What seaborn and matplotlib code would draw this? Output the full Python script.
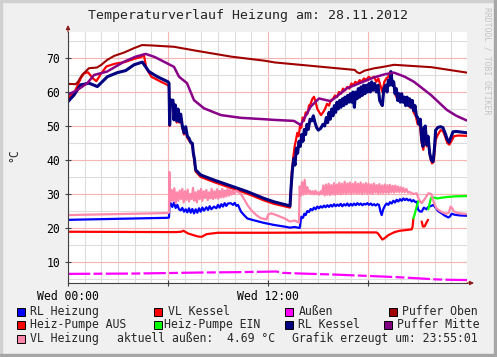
import numpy as np
import seaborn as sns
import matplotlib.pyplot as plt
from matplotlib.patches import Rectangle

# ---- data (hours since Wed 00:00, temperature in °C) ----
t_puffer_oben = [0, 0.46, 0.6, 0.84, 1.26, 1.74, 2.0, 2.34, 2.76, 3.36, 3.96, 4.44, 5.0, 6.36, 7.74,
                 9.8, 11.8, 12.4, 14.8, 17.2, 17.35, 17.5, 17.8, 18.4, 18.8, 19.56, 21.8, 23.94]
v_puffer_oben = [62.4, 62.3, 63.0, 65.0, 67.0, 67.2, 68.0, 69.4, 70.6, 71.6, 72.9, 73.8, 73.7, 73.3, 72.1,
                 70.4, 69.2, 68.7, 67.6, 66.5, 65.8, 65.5, 66.3, 67.0, 67.3, 68.0, 67.3, 65.7]

t_puffer_mitte = [0, 0.56, 1.16, 1.56, 2.34, 3.36, 4.06, 4.66, 5.2, 5.76, 6.36, 6.66, 7.14, 7.56, 8.16,
                  9.18, 10.38, 11.76, 12.36, 13.56, 13.96, 14.56, 15.06, 15.76, 16.74, 18.36, 19.0, 19.56,
                  20.2, 20.76, 21.78, 22.74, 23.3, 23.94]
v_puffer_mitte = [59.2, 60.6, 62.6, 65.0, 66.0, 68.9, 70.4, 71.2, 70.3, 68.9, 67.4, 64.5, 62.6, 57.6, 55.2,
                  53.2, 52.4, 52.0, 51.8, 51.5, 50.3, 55.7, 58.1, 57.3, 61.1, 64.3, 65.2, 65.7,
                  64.5, 63.0, 59.1, 54.7, 53.0, 51.6]

t_rl_kessel = [0, 0.36, 0.76, 1.26, 1.76, 2.36, 2.96, 3.46, 3.96, 4.46, 4.86, 5.36, 6.0,
               6.06, 6.10, 6.14, 6.30, 6.36, 6.44, 6.52, 6.60, 6.68, 6.76, 6.86, 6.96, 7.06, 7.16, 7.26,
               7.36, 7.46, 7.52, 7.58, 7.66, 7.96, 8.76, 9.76, 10.76, 11.76, 12.36, 13.32,
               13.40, 13.48, 13.56, 13.62, 13.70, 13.78, 13.86, 13.94, 14.02, 14.10, 14.18, 14.26, 14.34,
               14.42, 14.52, 14.62, 14.72, 14.82, 14.92, 15.02, 15.16, 15.30, 15.40, 15.50, 15.58, 15.66,
               15.74, 15.82, 15.90, 15.98, 16.06, 16.14, 16.22, 16.30, 16.38, 16.46, 16.54, 16.62, 16.70,
               16.78, 16.86, 16.94, 17.02, 17.10, 17.18, 17.26, 17.34, 17.42, 17.50, 17.58, 17.66, 17.74,
               17.82, 17.90, 17.98, 18.06, 18.14, 18.22, 18.30, 18.40, 18.50, 18.60, 18.70, 18.80, 18.86,
               18.95, 19.06, 19.14, 19.22, 19.30, 19.38, 19.46, 19.54, 19.62, 19.70, 19.78, 19.86, 19.94,
               20.02, 20.10, 20.18, 20.26, 20.34, 20.42, 20.50, 20.58, 20.66, 20.74, 20.82, 20.90, 20.98,
               21.06, 21.14, 21.22, 21.30, 21.36, 21.44, 21.52, 21.60, 21.70, 21.80, 21.90, 21.98, 22.06,
               22.20, 22.36, 22.50, 22.62, 22.76, 22.86, 22.96, 23.10, 23.30, 23.60, 23.94]
v_rl_kessel = [57.2, 59.1, 62.1, 62.6, 61.6, 64.5, 65.7, 66.3, 68.0, 68.8, 66.0, 64.5, 63.0,
               62.6, 50.3, 57.6, 57.6, 51.8, 56.2, 51.5, 55.0, 51.3, 53.5, 50.0, 48.0, 49.8, 47.0, 46.4,
               45.2, 44.9, 42.0, 40.5, 37.1, 35.6, 34.1, 32.4, 30.7, 28.7, 27.7, 26.5,
               33.0, 38.0, 40.5, 38.5, 43.5, 42.0, 45.5, 44.0, 47.5, 45.5, 49.0, 47.5, 50.5,
               49.0, 52.0, 51.5, 53.0, 51.0, 49.5, 48.8, 49.3, 50.5, 50.0, 52.5, 51.0, 54.0,
               52.0, 55.0, 53.0, 56.0, 54.0, 57.0, 55.0, 57.5, 55.5, 58.0, 56.0, 58.5, 56.5,
               59.0, 57.0, 59.5, 57.0, 60.0, 55.5, 60.0, 58.0, 61.0, 58.5, 61.5, 59.0, 62.0,
               59.5, 62.0, 60.0, 62.5, 60.0, 63.0, 60.5, 62.5, 60.0, 62.0, 57.5, 56.5, 56.0,
               61.0, 62.0, 60.0, 63.5, 62.0, 66.0, 62.0, 63.0, 59.5, 61.0, 57.5, 59.5, 57.0,
               59.5, 57.0, 58.5, 56.0, 58.5, 56.0, 58.0, 55.5, 57.5, 54.5, 56.0, 53.0, 52.5,
               50.5, 52.0, 46.0, 44.0, 49.5, 50.0, 44.5, 47.0, 42.0, 40.0, 39.5, 43.0, 48.8,
               49.6, 49.8, 49.5, 48.0, 46.0, 45.2, 46.5, 48.3, 48.4, 48.2, 48.0]

t_vl_kessel = [0, 0.4, 0.76, 0.96, 1.2, 1.5, 1.7, 2.0, 2.3, 2.8, 3.4, 4.0, 4.4, 4.55, 4.7, 5.0, 5.5, 6.0,
               6.06, 6.10, 6.14, 6.30, 6.36, 6.44, 6.52, 6.60, 6.68, 6.76, 6.86, 6.96, 7.06, 7.16, 7.26,
               7.46, 7.56, 7.66, 7.96, 8.76, 9.76, 10.76, 11.76, 12.36, 13.32,
               13.42, 13.52, 13.60, 13.68, 13.76, 13.84, 13.92, 14.00, 14.08, 14.16, 14.26, 14.36, 14.46,
               14.56, 14.66, 14.76, 14.86, 14.96, 15.06, 15.18, 15.30, 15.42, 15.54, 15.66, 15.76, 15.90,
               16.02, 16.14, 16.26, 16.38, 16.50, 16.62, 16.76, 16.88, 17.00, 17.12, 17.24, 17.36, 17.50,
               17.62, 17.76, 17.90, 18.04, 18.18, 18.36, 18.50, 18.62, 18.74, 18.86, 18.98, 19.10, 19.22,
               19.34, 19.44, 19.56, 19.66, 19.78, 19.90, 20.02, 20.14, 20.26, 20.38, 20.50, 20.62, 20.74,
               20.86, 20.98, 21.10, 21.22, 21.32, 21.42, 21.52, 21.62, 21.72, 21.84, 21.94, 22.06, 22.20,
               22.36, 22.50, 22.62, 22.76, 22.88, 23.00, 23.16, 23.40, 23.94]
v_vl_kessel = [58.2, 60.0, 64.0, 65.5, 65.8, 64.0, 63.2, 65.5, 67.5, 68.3, 68.8, 69.8, 70.3, 71.0, 67.0,
               64.5, 63.2, 62.0,
               61.5, 50.0, 57.0, 57.0, 52.0, 55.5, 51.0, 54.5, 51.0, 53.0, 49.5, 47.5, 49.0, 46.5, 45.8,
               44.3, 40.5, 36.6, 35.0, 33.5, 31.8, 30.1, 28.1, 27.1, 26.0,
               36.0, 41.0, 44.0, 46.0, 48.0, 47.0, 50.0, 49.5, 52.5, 51.5, 54.0, 53.5, 56.0,
               56.5, 58.0, 58.6, 57.0, 55.0, 54.2, 53.2, 54.0, 55.0, 56.5, 56.0, 57.5, 58.0,
               59.0, 58.5, 60.0, 59.5, 61.0, 60.5, 61.5, 61.0, 62.5, 62.0, 63.0, 62.5, 63.5,
               63.0, 64.0, 63.5, 64.5, 64.0, 64.5, 63.0, 64.0, 62.0, 60.0, 63.0, 64.0, 64.5,
               66.0, 63.5, 62.0, 59.0, 58.0, 59.0, 57.5, 58.5, 56.5, 57.5, 55.5, 56.5, 54.0,
               53.0, 50.5, 51.0, 45.0, 43.0, 48.0, 44.0, 46.0, 41.0, 39.0, 39.5, 46.0, 47.5,
               48.8, 48.5, 47.0, 45.0, 44.5, 45.5, 47.0, 47.2, 47.1]

t_rl_heizung = [0, 3.0, 6.0, 6.06, 6.10, 6.16, 6.26, 6.36, 6.46, 6.56, 6.66, 6.76, 6.86, 6.96, 7.06, 7.16,
                7.26, 7.36, 7.46, 7.56, 7.66, 7.76, 7.86, 7.96, 8.06, 8.16, 8.30, 8.40, 8.50, 8.60, 8.76,
                8.90, 9.00, 9.10, 9.20, 9.30, 9.40, 9.50, 9.60, 9.76, 9.90, 10.00, 10.10, 10.20, 10.38,
                10.60, 10.76, 11.20, 11.76, 12.36, 13.00, 13.32, 13.60, 13.90,
                14.00, 14.10, 14.18, 14.26, 14.36, 14.46, 14.56, 14.66, 14.76, 14.86, 14.96, 15.06, 15.16,
                15.26, 15.36, 15.46, 15.56, 15.66, 15.76, 15.86, 15.96, 16.06, 16.16, 16.26, 16.36, 16.46,
                16.56, 16.66, 16.76, 16.86, 16.96, 17.06, 17.16, 17.26, 17.36, 17.46, 17.56, 17.66, 17.76,
                17.86, 17.96, 18.06, 18.16, 18.26, 18.36, 18.46, 18.56, 18.66, 18.74, 18.82, 18.92, 19.02,
                19.12, 19.22, 19.32, 19.42, 19.52, 19.62, 19.72, 19.82, 19.92, 20.02, 20.12, 20.22, 20.32,
                20.42, 20.52, 20.62, 20.72, 20.82, 20.92, 21.00, 21.10, 21.22, 21.35, 21.50, 21.62, 21.80,
                21.92, 22.05, 22.20, 22.42, 22.62, 22.82, 22.92, 23.02, 23.20, 23.50, 23.94]
v_rl_heizung = [22.4, 22.7, 23.0, 23.1, 28.0, 27.2, 26.2, 27.5, 25.9, 26.8, 25.5, 25.2, 25.9, 24.8, 25.5, 24.6,
                25.8, 24.5, 25.6, 24.3, 25.5, 24.5, 25.8, 24.8, 26.0, 25.1, 26.1, 25.3, 26.4, 25.5, 26.3,
                25.8, 26.8, 26.0, 27.0, 26.3, 27.3, 26.5, 27.2, 27.3, 26.8, 27.4, 26.5, 26.8, 24.8,
                23.6, 22.8, 22.2, 21.5, 20.9, 20.4, 20.1, 20.3, 20.0,
                23.3, 23.0, 24.2, 23.8, 25.0, 24.7, 25.6, 25.2, 26.0, 25.5, 26.3, 25.8, 26.4,
                26.0, 26.6, 26.1, 26.7, 26.2, 26.8, 26.3, 27.0, 26.4, 26.9, 26.5, 27.1, 26.4,
                27.0, 26.6, 27.2, 26.5, 27.1, 26.6, 27.2, 26.7, 27.3, 26.8, 27.2, 26.7, 27.1,
                26.9, 27.3, 26.8, 27.2, 26.7, 27.0, 26.6, 27.0, 26.8, 25.0, 23.8, 25.6, 26.6,
                27.2, 26.8, 27.6, 27.2, 28.0, 27.5, 28.3, 27.8, 28.5, 28.0, 28.7, 28.2, 28.6,
                28.1, 28.4, 27.8, 28.2, 27.7, 27.7, 25.5, 24.9, 24.8, 26.0, 25.5, 26.2, 26.5,
                26.8, 26.0, 25.0, 24.3, 23.6, 23.1, 23.4, 24.2, 23.9, 23.7, 23.6]

t_vl_heizung = [0, 3.0, 6.0, 6.06, 6.08, 6.14, 6.22, 6.30, 6.38, 6.46, 6.54, 6.62, 6.70, 6.78, 6.86, 6.94,
                7.02, 7.10, 7.18, 7.26, 7.34, 7.42, 7.50, 7.58, 7.66, 7.74, 7.82, 7.90, 7.98, 8.06, 8.14,
                8.22, 8.30, 8.38, 8.46, 8.54, 8.62, 8.70, 8.78, 8.86, 8.94, 9.02, 9.10, 9.18, 9.26, 9.34,
                9.42, 9.50, 9.58, 9.66, 9.74, 9.82, 9.90, 9.98, 10.10, 10.20, 10.38, 10.60, 10.76, 11.00,
                11.30, 11.56, 11.90, 12.02, 12.20, 12.50, 13.00, 13.32, 13.60, 13.86, 13.90, 13.96,
                14.04, 14.12, 14.20, 14.28, 14.36, 14.44, 14.52, 14.60, 14.68, 14.76, 14.84, 14.92, 15.00,
                15.08, 15.16, 15.24, 15.32, 15.40, 15.48, 15.56, 15.64, 15.72, 15.80, 15.88, 15.96, 16.04,
                16.12, 16.20, 16.28, 16.36, 16.44, 16.52, 16.60, 16.68, 16.76, 16.84, 16.92, 17.00, 17.08,
                17.16, 17.24, 17.32, 17.40, 17.48, 17.56, 17.64, 17.72, 17.80, 17.88, 17.96, 18.04, 18.12,
                18.20, 18.28, 18.36, 18.44, 18.52, 18.60, 18.68, 18.76, 18.84, 18.92, 19.00, 19.08, 19.16,
                19.24, 19.32, 19.40, 19.48, 19.56, 19.64, 19.72, 19.80, 19.88, 19.96, 20.04, 20.12, 20.20,
                20.30, 20.40, 20.50, 20.62, 20.74, 20.92, 21.04, 21.22, 21.40, 21.62, 21.80, 21.95, 22.10,
                22.32, 22.50, 22.70, 22.85, 22.96, 23.05, 23.15, 23.40, 23.70, 23.94]
v_vl_heizung = [23.8, 24.1, 24.4, 24.6, 36.5, 27.8, 31.2, 28.0, 31.7, 27.3, 30.5, 28.0, 31.0, 28.5, 31.5, 27.5,
                30.8, 28.3, 31.3, 27.8, 30.0, 28.5, 31.8, 28.0, 30.5, 27.5, 31.0, 28.5, 31.5, 28.0, 30.8,
                28.8, 31.2, 28.2, 30.5, 28.7, 31.5, 28.5, 30.8, 28.8, 31.4, 28.6, 30.9, 29.0, 31.5, 29.0,
                31.0, 29.3, 31.6, 29.5, 31.2, 29.8, 31.0, 30.0, 31.0, 30.6, 30.0, 28.2, 26.8, 25.2,
                23.8, 22.9, 22.5, 24.0, 24.3, 23.8, 22.8, 21.9, 22.2, 21.6, 32.2, 29.5,
                33.5, 29.8, 34.2, 30.0, 32.0, 30.2, 31.0, 30.0, 30.8, 29.9, 31.0, 30.0, 30.5,
                29.8, 30.8, 30.0, 32.5, 29.6, 32.8, 29.8, 33.0, 29.7, 32.6, 29.9, 33.2, 29.8,
                32.8, 30.0, 33.3, 29.9, 33.0, 30.1, 33.6, 30.0, 33.1, 30.2, 33.4, 30.0, 33.0,
                30.3, 33.5, 30.1, 33.0, 30.2, 33.4, 30.0, 32.9, 30.3, 33.2, 30.1, 33.0, 30.2,
                32.8, 30.0, 33.1, 30.4, 32.6, 30.1, 32.9, 30.3, 32.5, 30.2, 32.8, 30.4, 32.6,
                30.3, 32.7, 30.5, 32.4, 30.4, 32.5, 30.6, 32.2, 30.5, 32.0, 30.6, 31.8, 30.5,
                31.5, 30.4, 30.6, 30.2, 30.0, 30.2, 28.5, 27.3, 28.5, 30.2, 30.0, 27.5, 25.8,
                25.0, 24.5, 24.2, 24.5, 26.3, 25.8, 24.9, 24.4, 24.2, 24.1]

t_pumpe_aus = [0, 6.0, 6.5, 6.8, 6.92, 7.2, 7.52, 7.8, 8.02, 8.2, 8.32, 9.0, 12.0, 16.0, 18.5, 18.6,
               18.86, 19.0, 19.22, 19.6, 19.92, 20.3, 20.62, 20.68, 20.72]
v_pumpe_aus = [18.9, 18.8, 18.8, 18.9, 19.2, 18.4, 17.9, 17.5, 17.4, 17.9, 18.2, 18.6, 18.6, 18.7, 18.7, 18.4,
               16.6, 17.0, 17.9, 18.8, 19.2, 19.4, 19.6, 20.5, 22.8]
t_pumpe_aus2 = [21.22, 21.30, 21.40, 21.50, 21.60]
v_pumpe_aus2 = [21.9, 20.4, 20.5, 21.5, 22.4]

t_pumpe_ein = [20.72, 20.80, 20.92, 21.02, 21.12]
v_pumpe_ein = [22.8, 24.0, 26.3, 28.0, 27.8]
t_pumpe_ein2 = [21.62, 21.68, 21.76, 21.82, 22.0, 22.16, 22.4, 22.72, 23.2, 23.94]
v_pumpe_ein2 = [25.5, 26.8, 28.5, 29.1, 28.9, 28.7, 28.9, 29.1, 29.3, 29.4]

t_aussen = [0, 2, 4, 6, 7.92, 10, 12.0, 12.5, 12.9, 14, 16, 18, 19.92, 21, 22, 23.0, 23.94]
v_aussen = [6.5, 6.55, 6.6, 6.75, 6.9, 7.0, 7.15, 7.2, 6.8, 6.6, 6.3, 5.9, 5.5, 5.2, 4.9, 4.75, 4.69]

legend_rows = [
    [('RL Heizung', '#0000FF'), ('VL Kessel', '#FF0000'), ('Außen', '#FF00FF'), ('Puffer Oben', '#A00000')],
    [('Heiz-Pumpe AUS', '#FF0000'), ('Heiz-Pumpe EIN', '#00FF00'), ('RL Kessel', '#000080'),
     ('Puffer Mitte', '#800080')],
]

# ---- figure ----
W, H = 497, 357
sns.set_style('white')
plt.rcParams['font.family'] = ['DejaVu Sans Mono']

fig = plt.figure(figsize=(W / 100, H / 100), dpi=100, facecolor='#F0F0F0')
ax = fig.add_axes([68 / W, 1 - 283 / H, (467 - 68) / W, (283 - 32) / H])
ax.set_facecolor('white')


def px(x, y):
    return x / W, 1 - y / H


def draw(t, v, color, lw=1.5, **kw):
    sns.lineplot(x=t, y=v, ax=ax, color=color, lw=lw, sort=False, estimator=None, **kw)


draw(t_rl_heizung, v_rl_heizung, '#0000FF', 1.6)
draw(t_vl_kessel, v_vl_kessel, '#FF0000', 1.6)
draw(t_aussen, v_aussen, '#FF00FF', 1.6, linestyle=(0, (10, 1.5, 4, 1.5)))
draw(t_puffer_oben, v_puffer_oben, '#A00000', 1.5)
draw(t_pumpe_aus, v_pumpe_aus, '#FF0000', 1.6)
draw(t_pumpe_aus2, v_pumpe_aus2, '#FF0000', 1.6)
draw(t_pumpe_ein, v_pumpe_ein, '#00FF00', 1.6)
draw(t_pumpe_ein2, v_pumpe_ein2, '#00FF00', 1.6)
draw(t_rl_kessel, v_rl_kessel, '#000080', 2.2)
draw(t_puffer_mitte, v_puffer_mitte, '#880088', 1.8)
draw(t_vl_heizung, v_vl_heizung, '#FF88AA', 1.6)

ax.set_xlim(0, 23.94)
ax.set_ylim(3.82, 77.65)
ax.set_xticks([0, 6, 12, 18])
ax.set_xticklabels(['Wed 00:00', '', 'Wed 12:00', ''])
ax.set_xticks(np.arange(0, 24, 1), minor=True)
ax.set_yticks([10, 20, 30, 40, 50, 60, 70])
ax.set_yticks([5, 15, 25, 35, 45, 55, 65, 75], minor=True)
ax.set_xlabel('')
ax.set_ylabel('')

ax.set_axisbelow(True)
ax.grid(which='minor', color='#DCDCDC', lw=0.8)
ax.grid(which='major', color='#F6B4B4', lw=0.8)
ax.tick_params(which='major', direction='inout', length=4, width=0.8, color='#404040',
               labelsize=8.3, labelcolor='black')
ax.tick_params(which='minor', direction='inout', length=2.5, width=0.6, color='#404040')
ax.tick_params(axis='y', pad=3.8, left=True)
ax.tick_params(axis='x', pad=3, bottom=True)

for s in ['top', 'right']:
    ax.spines[s].set_visible(False)
for s in ['left', 'bottom']:
    ax.spines[s].set_color('#404040')
    ax.spines[s].set_linewidth(0.8)

# axis arrows
ax.annotate('', xy=(0, 1 + 7 / 251), xytext=(0, 1.0), xycoords='axes fraction',
            arrowprops=dict(arrowstyle='-|>', color='#8B1A1A', lw=0.8, mutation_scale=6,
                            shrinkA=0, shrinkB=0), annotation_clip=False)
ax.annotate('', xy=(1 + 7 / 399, 0), xytext=(1.0, 0), xycoords='axes fraction',
            arrowprops=dict(arrowstyle='-|>', color='#8B1A1A', lw=0.8, mutation_scale=6,
                            shrinkA=0, shrinkB=0), annotation_clip=False)

# texts
fig.text(*px(248.5, 16), 'Temperaturverlauf Heizung am: 28.11.2012', ha='center', va='center', size=9.5)
fig.text(*px(14, 155), '°C', rotation=90, ha='center', va='center', size=8.3)
fig.text(*px(487, 7), 'RRDTOOL / TOBI OETIKER', rotation=-90, ha='center', va='top', size=5.9,
         color='#C4C4C4')

# legend
sq_x = [[20.5, 158, 289, 392.5], [20.5, 157.5, 289, 387.5]]
tx_x = [[30, 168, 299, 402], [30, 164, 298, 397]]
row_y = [311.5, 324.7]
for r, row in enumerate(legend_rows):
    for c, (label, col) in enumerate(row):
        x0, y0 = px(sq_x[r][c] - 4, row_y[r] + 4)
        fig.patches.append(Rectangle((x0, y0), 8 / W, 8 / H, transform=fig.transFigure,
                                     facecolor=col, edgecolor='black', lw=0.7))
        fig.text(*px(tx_x[r][c], row_y[r]), label, ha='left', va='center', size=8.3)

x0, y0 = px(20.5 - 4, 338.8 + 4)
fig.patches.append(Rectangle((x0, y0), 8 / W, 8 / H, transform=fig.transFigure,
                             facecolor='#FF88AA', edgecolor='black', lw=0.7))
fig.text(*px(30, 338.8), 'VL Heizung', ha='left', va='center', size=8.3)
fig.text(*px(116.7, 338.8), 'aktuell außen:  4.69 °C', ha='left', va='center', size=8.3)
fig.text(*px(291.7, 338.8), 'Grafik erzeugt um: 23:55:01', ha='left', va='center', size=8.3)

# frame around the canvas
fig.patches.append(Rectangle((0, 1 - 2 / H), 1, 2 / H, transform=fig.transFigure, color='#D0D0D0'))
fig.patches.append(Rectangle((0, 0), 2 / W, 1, transform=fig.transFigure, color='#D0D0D0'))
fig.patches.append(Rectangle((1 - 3 / W, 0), 3 / W, 1, transform=fig.transFigure, color='#A6A6A6'))
fig.patches.append(Rectangle((0, 0), 1, 3 / H, transform=fig.transFigure, color='#A6A6A6'))

fig.savefig('out.png', dpi=100, facecolor=fig.get_facecolor())
